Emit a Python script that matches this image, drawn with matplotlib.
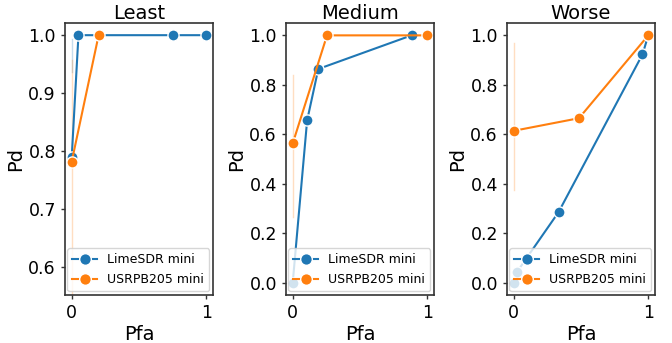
import matplotlib
matplotlib.use("Agg")
import matplotlib.pyplot as plt

titles = ["Least", "Medium", "Worse"]
series_names = ["LimeSDR mini", "USRPB205 mini"]
colors = ["#1f77b4", "#ff7f0e"]

# Least
least_lime_x = [0.0, 0.05, 0.755, 1.0]
least_lime_y = [0.790, 1.0, 1.0, 1.0]
least_usrp_x = [0.0, 0.2]
least_usrp_y = [0.782, 1.0]
# Medium
medium_lime_x = [0.0, 0.107, 0.19, 0.883]
medium_lime_y = [0.0, 0.656, 0.864, 1.0]
medium_usrp_x = [0.0, 0.255, 1.0]
medium_usrp_y = [0.563, 1.0, 1.0]
# Worse
worse_lime_x = [0.0, 0.025, 0.333, 0.957, 1.0]
worse_lime_y = [0.0, 0.044, 0.285, 0.923, 1.0]
worse_usrp_x = [0.0, 0.485, 1.0]
worse_usrp_y = [0.614, 0.665, 1.0]

# error bands at Pfa = 0 (x, low, high) per panel, per series (None = none)
least_bands = [(0.0, 0.936, 0.993), (0.0, 0.50, 0.957)]
medium_bands = [None, (0.0, 0.267, 0.839)]
worse_bands = [None, (0.0, 0.374, 0.969)]

y_ticks = [[0.6, 0.7, 0.8, 0.9, 1.0], [0.0, 0.2, 0.4, 0.6, 0.8, 1.0], [0.0, 0.2, 0.4, 0.6, 0.8, 1.0]]
y_limits = [(0.552, 1.021), (-0.05, 1.05), (-0.05, 1.05)]
x_ticks = [0, 1]

panels = [
    ((least_lime_x, least_lime_y), (least_usrp_x, least_usrp_y), least_bands),
    ((medium_lime_x, medium_lime_y), (medium_usrp_x, medium_usrp_y), medium_bands),
    ((worse_lime_x, worse_lime_y), (worse_usrp_x, worse_usrp_y), worse_bands),
]

fig = plt.figure(figsize=(6.72, 3.43), dpi=100)
lefts = [65, 286, 507]
width = 148
top, bottom = 23, 295
W, H = 672, 343

for i, (lime, usrp, bands) in enumerate(panels):
    ax = fig.add_axes([lefts[i] / W, 1 - bottom / H, width / W, (bottom - top) / H])
    for (xs, ys), band, c, name in zip([lime, usrp], bands, colors, series_names):
        if band is not None:
            bx, lo, hi = band
            ax.plot([bx, bx], [lo, hi], color=c, alpha=0.25, lw=1, zorder=1)
        ax.plot(xs, ys, color=c, lw=1.5, marker="o", markersize=8,
                markeredgecolor="white", markeredgewidth=1, label=name, zorder=2)
    ax.set_xlim(-0.05, 1.05)
    ax.set_ylim(*y_limits[i])
    ax.set_xticks(x_ticks)
    ax.set_xticklabels(["0", "1"])
    ax.set_yticks(y_ticks[i])
    ax.set_yticklabels([f"{v:.1f}" for v in y_ticks[i]])
    ax.tick_params(labelsize=12.5, length=3, width=1, color="#333333")
    for s in ax.spines.values():
        s.set_color("#333333")
        s.set_linewidth(1.2)
    ax.set_title(titles[i], fontsize=14, pad=3)
    ax.set_xlabel("Pfa", fontsize=14, labelpad=2)
    ax.set_ylabel("Pd", fontsize=14, labelpad=2)
    ax.legend(loc="lower right", fontsize=9, handlelength=2, borderpad=0.4,
              labelspacing=0.55, handletextpad=0.8, borderaxespad=0.3,
              markerscale=1.05)

fig.savefig("out.png", dpi=100)
